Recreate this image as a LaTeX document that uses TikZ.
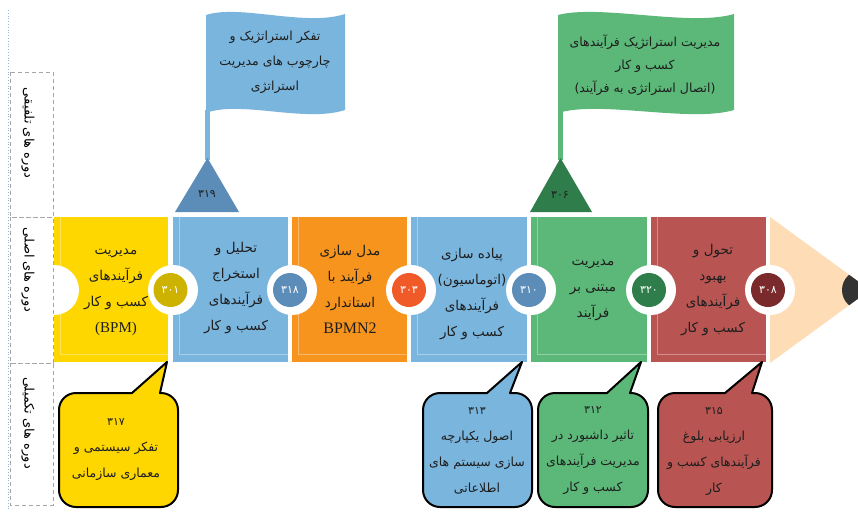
\documentclass[tikz,border=0pt]{standalone}
\usepackage{fontspec}
\setmainfont{Liberation Serif}
\newfontfamily\arabicfont[Script=Arabic]{DejaVu Sans}
\TeXXeTstate=1
\newcommand\fa[1]{{\arabicfont\beginR #1\endR}}
\definecolor{yel}{HTML}{FFD700}
\definecolor{yelD}{HTML}{CDB300}
\definecolor{blu}{HTML}{7AB5DD}
\definecolor{bluD}{HTML}{5B8DB8}
\definecolor{ora}{HTML}{F7941D}
\definecolor{oraD}{HTML}{EF5A28}
\definecolor{grn}{HTML}{5CB878}
\definecolor{grnD}{HTML}{2E7D4B}
\definecolor{redc}{HTML}{B85451}
\definecolor{redD}{HTML}{7A2A2A}
\definecolor{peach}{HTML}{FDDCB6}
\definecolor{tipc}{HTML}{333333}
\definecolor{txtc}{HTML}{1E1E1E}
\tikzset{
  blk/.style={inner sep=0pt, align=center, text=txtc, font=\fontsize{13.5}{26}\selectfont},
  flagtxt/.style={inner sep=0pt, align=center, text=txtc, font=\fontsize{12.5}{25}\selectfont},
  calltxt/.style={inner sep=0pt, align=center, text=txtc, font=\fontsize{12.5}{26}\selectfont},
  num/.style={circle, minimum size=34pt, inner sep=0pt, text=white, font=\fontsize{11}{11}\selectfont\arabicfont},
  trinum/.style={inner sep=0pt, text=txtc, font=\fontsize{11}{11}\selectfont\arabicfont},
  notch/.style={fill=white},
  bevel/.style={draw=white, draw opacity=0.35, line width=1pt},
  side/.style={rotate=-90, inner sep=0pt, text=black, font=\fontsize{13}{13}\selectfont},
  sidebox/.style={draw=black!35, dash pattern=on 4pt off 3pt, line width=0.8pt},
  callout/.style={draw=black, line width=2pt, line join=round},
}
\begin{document}
\begin{tikzpicture}[x=1pt,y=-1pt]
\useasboundingbox (0,0) rectangle (858,511);
\fill[white] (0,0) rectangle (858,511);
% guide line
\draw[color={rgb,255:red,150;green,180;blue,225}, dotted, line width=0.8pt] (8,10) -- (8,511);
% flags
\fill[blu] (206,15) .. controls (240,4) and (305,27) .. (345,14) -- (345,110) .. controls (305,123) and (240,100) .. (206,113) -- cycle;
\fill[blu] (205,110) rectangle (210,160);
\fill[bluD] (175,212) -- (207.5,158) -- (239,212) -- cycle;
\fill[grn] (558,15) .. controls (600,4) and (690,27) .. (734,14) -- (734,110) .. controls (690,123) and (600,100) .. (558,113) -- cycle;
\fill[grn] (558,110) rectangle (563,160);
\fill[grnD] (530,212) -- (560.5,158) -- (592,212) -- cycle;
\node[flagtxt] (f1) at (275,62) {\fa{تفکر استراتژیک و}\\\fa{چارچوب های مدیریت}\\\fa{استراتژی}};
\node[flagtxt, font=\fontsize{12.5}{23}\selectfont] (f2) at (645,65) {\fa{مدیریت استراتژیک فرآیندهای}\\\fa{کسب و کار}\\\fa{(اتصال استراتژی به فرآیند)}};
\node[trinum] (t1) at (207,194) {۳۱۹};
\node[trinum] (t2) at (560,195) {۳۰۶};
% blocks
\fill[yel] (54,217) rectangle (168,362);
\fill[blu] (173,217) rectangle (288,362);
\fill[ora] (292,217) rectangle (407,362);
\fill[blu] (411,217) rectangle (527,362);
\fill[grn] (531,217) rectangle (647,362);
\fill[redc] (651,217) rectangle (766,362);
\foreach \l/\r in {54/168,173/288,292/407,411/527,531/647,651/766}
  \draw[bevel] (\l+6,217) -- (\l+6,354) -- (\r,354);
\fill[peach] (770,217) -- (870,290) -- (770,363) -- cycle;
\begin{scope}
  \clip (770,217) -- (870,290) -- (770,363) -- cycle;
  \fill[tipc] (862,290) circle[radius=20];
\end{scope}
\foreach \x in {54,173,292,411,531,651,770} \fill[notch] (\x,290) circle[radius=25];
% number circles
\node[num, fill=yelD] (c1) at (170.5,290) {۳۰۱};
\node[num, fill=bluD] (c2) at (290,290) {۳۱۸};
\node[num, fill=oraD] (c3) at (409,290) {۳۰۳};
\node[num, fill=bluD] (c4) at (529,290) {۳۱۰};
\node[num, fill=grnD] (c5) at (649,290) {۳۲۰};
\node[num, fill=redD] (c6) at (768,290) {۳۰۸};
% block texts
\node[blk] (b1) at (116,292) {\fa{مدیریت}\\\fa{فرآیندهای}\\\fa{کسب و کار}\\{\fontsize{15}{26}\selectfont (BPM)}};
\node[blk] (b2) at (236,288) {\fa{تحلیل و}\\\fa{استخراج}\\\fa{فرآیندهای}\\\fa{کسب و کار}};
\node[blk] (b3) at (350,289) {\fa{مدل سازی}\\\fa{فرآیند با}\\\fa{استاندارد}\\{\fontsize{16}{26}\selectfont BPMN2}};
\node[blk] (b4) at (472,294) {\fa{پیاده سازی}\\\fa{(اتوماسیون)}\\\fa{فرآیندهای}\\\fa{کسب و کار}};
\node[blk] (b5) at (593,290) {\fa{مدیریت}\\\fa{مبتنی بر}\\\fa{فرآیند}};
\node[blk] (b6) at (713,290) {\fa{تحول و}\\\fa{بهبود}\\\fa{فرآیندهای}\\\fa{کسب و کار}};
% side boxes
\draw[sidebox] (10,72) rectangle (53,217);
\draw[sidebox] (10,217) rectangle (53,363);
\draw[sidebox] (10,363) rectangle (53,505);
\node[side] (s1) at (28,133) {\fa{دوره های تلفیقی}};
\node[side] (s2) at (28,270) {\fa{دوره های اصلی}};
\node[side] (s3) at (28,423) {\fa{دوره های تکمیلی}};
% callouts
\filldraw[callout, fill=yel] (59,410) arc(180:270:17) -- (132,393) -- (167,362) -- (160,393) -- (161,393) arc(270:360:17) -- (178,490) arc(0:90:17) -- (76,507) arc(90:180:17) -- cycle;
\filldraw[callout, fill=blu] (423,410) arc(180:270:17) -- (487,393) -- (522,362) -- (510,393) -- (515,393) arc(270:360:17) -- (532,490) arc(0:90:17) -- (440,507) arc(90:180:17) -- cycle;
\filldraw[callout, fill=grn] (538,410) arc(180:270:17) -- (607,393) -- (641,362) -- (630,393) -- (631,393) arc(270:360:17) -- (648,490) arc(0:90:17) -- (555,507) arc(90:180:17) -- cycle;
\filldraw[callout, fill=redc] (658,410) arc(180:270:17) -- (725,393) -- (762,362) -- (752,393) -- (755,393) arc(270:360:17) -- (772,490) arc(0:90:17) -- (675,507) arc(90:180:17) -- cycle;
\node[calltxt] (k1) at (116,450) {{\fontsize{11}{26}\selectfont\fa{۳۱۷}}\\\fa{تفکر سیستمی و}\\\fa{معماری سازمانی}};
\node[calltxt] (k2) at (477,451) {{\fontsize{11}{26}\selectfont\fa{۳۱۳}}\\\fa{اصول یکپارچه}\\\fa{سازی سیستم های}\\\fa{اطلاعاتی}};
\node[calltxt] (k3) at (593,451) {{\fontsize{11}{26}\selectfont\fa{۳۱۲}}\\\fa{تاثیر داشبورد در}\\\fa{مدیریت فرآیندهای}\\\fa{کسب و کار}};
\node[calltxt] (k4) at (714,451) {{\fontsize{11}{26}\selectfont\fa{۳۱۵}}\\\fa{ارزیابی بلوغ}\\\fa{فرآیندهای کسب و}\\\fa{کار}};
\end{tikzpicture}
\end{document}
